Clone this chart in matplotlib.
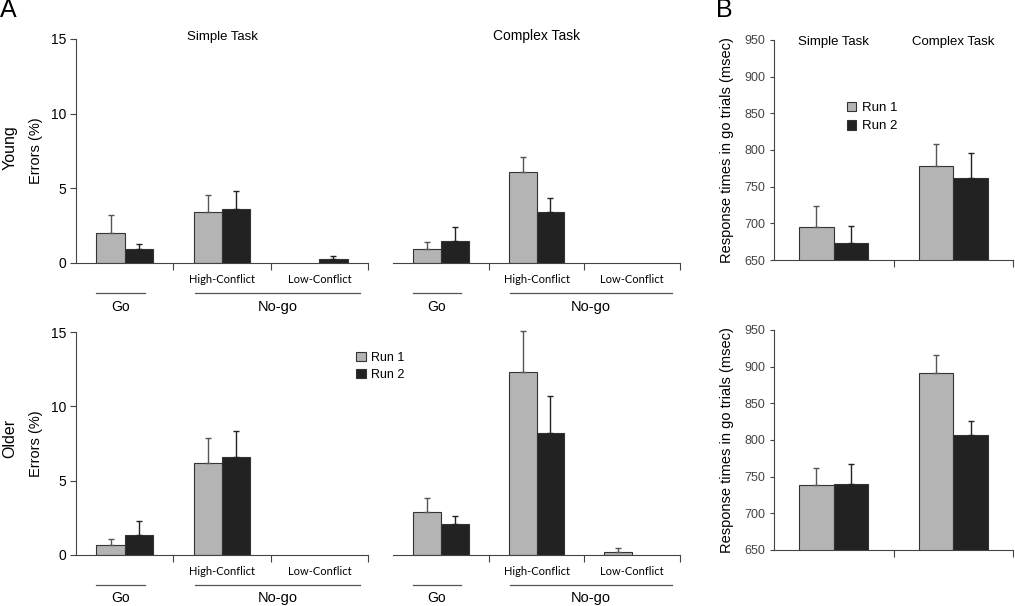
import matplotlib
matplotlib.use('Agg')
import matplotlib.pyplot as plt
import numpy as np

plt.rcParams['font.family'] = ['Liberation Sans', 'DejaVu Sans']

# Panel A data: error rates (%)
conditions = ['Go', 'High-Conflict', 'Low-Conflict']
young_simple_run1 = [2.0, 3.4, 0.0]
young_simple_run1_err = [1.2, 1.15, 0.0]
young_simple_run2 = [0.95, 3.6, 0.25]
young_simple_run2_err = [0.3, 1.2, 0.2]
young_complex_run1 = [0.95, 6.1, 0.0]
young_complex_run1_err = [0.45, 1.0, 0.0]
young_complex_run2 = [1.5, 3.4, 0.0]
young_complex_run2_err = [0.9, 0.95, 0.0]
older_simple_run1 = [0.67, 6.2, 0.0]
older_simple_run1_err = [0.4, 1.7, 0.0]
older_simple_run2 = [1.35, 6.6, 0.0]
older_simple_run2_err = [0.95, 1.75, 0.0]
older_complex_run1 = [2.9, 12.3, 0.22]
older_complex_run1_err = [0.95, 2.75, 0.23]
older_complex_run2 = [2.1, 8.2, 0.0]
older_complex_run2_err = [0.5, 2.5, 0.0]

# Panel B data: response times in go trials (msec)
tasks = ['Simple Task', 'Complex Task']
rt_young_run1 = [695, 778]
rt_young_run1_err = [28, 30]
rt_young_run2 = [673, 762]
rt_young_run2_err = [24, 34]
rt_older_run1 = [738, 892]
rt_older_run1_err = [24, 24]
rt_older_run2 = [740, 807]
rt_older_run2_err = [27, 19]

W, H = 1015, 606
C1 = '#b4b4b4'
C2 = '#222222'
EDGE = '#333333'

fig = plt.figure(figsize=(W / 100, H / 100), dpi=100)


def px_axes(left, top, right, bottom):
    return fig.add_axes([left / W, 1 - bottom / H, (right - left) / W, (bottom - top) / H])


def draw_pairs(ax, v1, e1, v2, e2, width):
    x = np.arange(len(v1))
    b1 = ax.bar(x - width / 2, v1, width, color=C1, edgecolor=EDGE, linewidth=0.8)
    b2 = ax.bar(x + width / 2, v2, width, color=C2, edgecolor=EDGE, linewidth=0.8)
    for xs, vals, errs, ec in [(x - width / 2, v1, e1, '#555555'), (x + width / 2, v2, e2, '#222222')]:
        for xi, v, e in zip(xs, vals, errs):
            if e > 0:
                eb = ax.errorbar(xi, v, yerr=[[0], [e]], fmt='none', ecolor=ec,
                                 elinewidth=1, capsize=2, capthick=1)
                for child in eb.get_children():
                    child.set_clip_on(False)
    for b in list(b1) + list(b2):
        if b.get_height() == 0:
            b.set_visible(False)
    return b1, b2


def style_A(ax, show_y):
    ax.set_xlim(-0.5, 2.5)
    ax.set_ylim(0, 15)
    for s in ['top', 'right']:
        ax.spines[s].set_visible(False)
    ax.spines['bottom'].set_color('#444444')
    ax.set_xticks([0.5, 1.5, 2.5])
    ax.set_xticklabels([])
    ax.tick_params(axis='x', direction='out', length=5, color='#444444')
    if show_y:
        ax.spines['left'].set_color('#444444')
        ax.set_yticks([0, 5, 10, 15])
        ax.tick_params(axis='y', direction='out', length=4, color='#444444', labelsize=10, pad=3)
        ax.set_ylabel('Errors (%)', fontsize=10.5, labelpad=6)
    else:
        ax.spines['left'].set_visible(False)
        ax.set_yticks([])
    ax.patch.set_visible(False)
    # condition labels and brackets below axis
    tr = ax.get_xaxis_transform()
    ax.text(1, -0.072, 'High-Conflict', transform=tr, ha='center', va='center',
            fontsize=8, family='Lato')
    ax.text(2, -0.072, 'Low-Conflict', transform=tr, ha='center', va='center',
            fontsize=8, family='Lato')
    ax.plot([-0.29, 0.21], [-0.135, -0.135], transform=tr, color='#555555', lw=0.9, clip_on=False)
    ax.plot([0.72, 2.42], [-0.135, -0.135], transform=tr, color='#555555', lw=0.9, clip_on=False)
    ax.text(-0.04, -0.195, 'Go', transform=tr, ha='center', va='center', fontsize=10)
    ax.text(1.57, -0.195, 'No-go', transform=tr, ha='center', va='center', fontsize=10.5)


def style_B(ax):
    ax.set_xlim(-0.5, 1.5)
    ax.set_ylim(650, 950)
    for s in ['top', 'right']:
        ax.spines[s].set_visible(False)
    ax.spines['bottom'].set_color('#444444')
    ax.spines['left'].set_color('#444444')
    ax.set_xticks([0.5, 1.5])
    ax.set_xticklabels([])
    ax.set_yticks(np.arange(650, 951, 50))
    ax.tick_params(axis='x', direction='out', length=5, color='#444444')
    ax.tick_params(axis='y', direction='out', length=3, color='#444444', labelsize=9,
                   labelcolor='#444444', pad=3)
    ax.set_ylabel('Response times in go trials (msec)', fontsize=10.5, labelpad=8)
    ax.patch.set_visible(False)


bw_A = 0.29
rows = [
    (39, 263, young_simple_run1, young_simple_run1_err, young_simple_run2, young_simple_run2_err,
     young_complex_run1, young_complex_run1_err, young_complex_run2, young_complex_run2_err),
    (332, 555, older_simple_run1, older_simple_run1_err, older_simple_run2, older_simple_run2_err,
     older_complex_run1, older_complex_run1_err, older_complex_run2, older_complex_run2_err),
]
axes_A = []
for top, bot, s1, se1, s2, se2, c1, ce1, c2, ce2 in rows:
    ax_s = px_axes(76, top, 368, bot)
    draw_pairs(ax_s, s1, se1, s2, se2, bw_A)
    style_A(ax_s, True)
    ax_c = px_axes(393, top, 680, bot)
    h1, h2 = draw_pairs(ax_c, c1, ce1, c2, ce2, bw_A)
    style_A(ax_c, False)
    axes_A.append((ax_s, ax_c, h1, h2))

axes_A[0][0].set_title('Simple Task', fontsize=9.5, pad=-1, y=1.0)
axes_A[0][1].set_title('Complex Task', fontsize=10, pad=-1, y=1.0)

fig.text(10 / W, 1 - 148 / H, 'Young', rotation=90, ha='center', va='center', fontsize=11.5)
fig.text(10 / W, 1 - 438 / H, 'Older', rotation=90, ha='center', va='center', fontsize=11.5)

h1, h2 = axes_A[1][2], axes_A[1][3]
fig.legend([h1, h2], ['Run 1', 'Run 2'], loc='upper left', bbox_to_anchor=(350 / W, 1 - 346 / H),
           frameon=False, fontsize=9, handlelength=0.75, handleheight=0.75, handletextpad=0.4,
           labelspacing=0.4, borderpad=0)

# Panel B
bw_B = 0.29
axB1 = px_axes(774, 40, 1013, 260)
b1, b2 = draw_pairs(axB1, rt_young_run1, rt_young_run1_err, rt_young_run2, rt_young_run2_err, bw_B)
style_B(axB1)
for i, t in enumerate(tasks):
    axB1.text(i, 947, t, ha='center', va='center', fontsize=9.5)
axB1.legend([b1, b2], ['Run 1', 'Run 2'], loc='upper left', bbox_to_anchor=(840 / W, 1 - 95 / H),
            bbox_transform=fig.transFigure, frameon=False, fontsize=9.5, handlelength=0.75,
            handleheight=0.75, handletextpad=0.4, labelspacing=0.45, borderpad=0)

axB2 = px_axes(774, 330, 1013, 550)
draw_pairs(axB2, rt_older_run1, rt_older_run1_err, rt_older_run2, rt_older_run2_err, bw_B)
style_B(axB2)

fig.text(0 / W, 1 - 10 / H, 'A', fontsize=18, ha='left', va='center')
fig.text(716 / W, 1 - 10 / H, 'B', fontsize=18, ha='left', va='center')

fig.savefig('out.png', dpi=100)
